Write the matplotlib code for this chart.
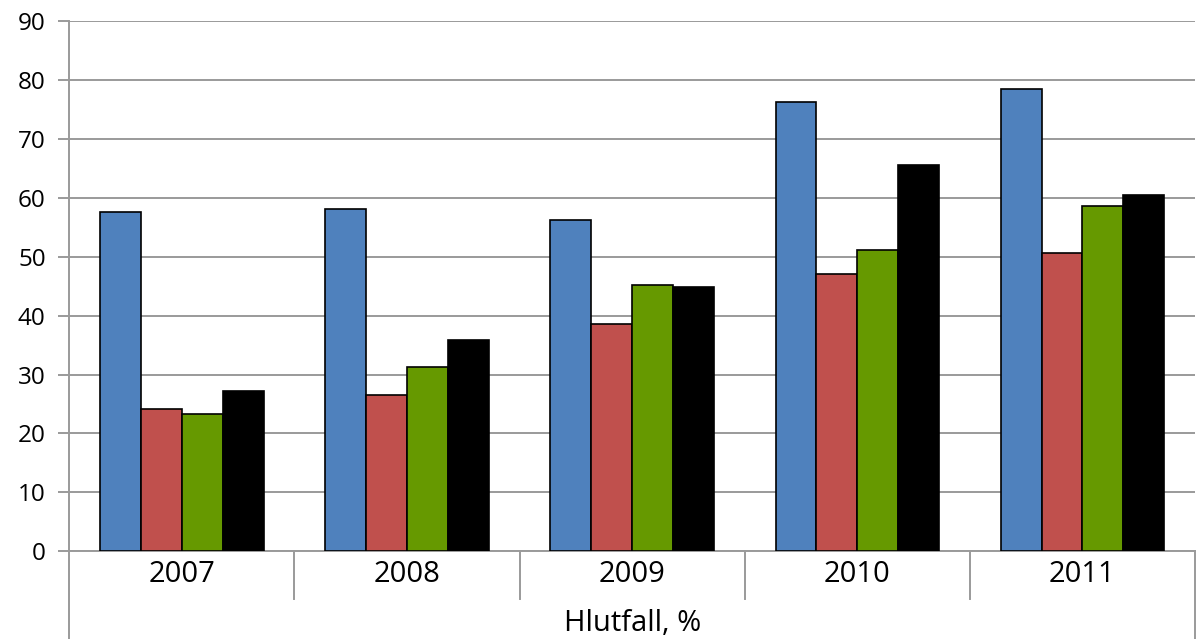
"""Hlutfall, % - grouped bar chart 2007-2011."""

import matplotlib
matplotlib.use('Agg')
import matplotlib.pyplot as plt
import numpy as np

plt.rcParams['font.family'] = ['Open Sans', 'DejaVu Sans']

years = ["2007", "2008", "2009", "2010", "2011"]
series_a = [57.6, 58.0, 56.2, 76.2, 78.4]
series_b = [24.2, 26.5, 38.5, 47.0, 50.6]
series_c = [23.3, 31.2, 45.2, 51.1, 58.6]
series_d = [27.2, 35.9, 44.8, 65.5, 60.4]
group_label = "Hlutfall, %"

series = [series_a, series_b, series_c, series_d]
colors = ["#4F81BD", "#C0504D", "#669900", "#000000"]
grid_col = "#9A9A9A"

fig = plt.figure(figsize=(12, 6.39), dpi=100, facecolor="white")
ax = fig.add_axes([0.0578, 0.137, 0.938, 0.8307])

x = np.arange(len(years))
w = 0.1816
for i, (vals, col) in enumerate(zip(series, colors)):
    ax.bar(x + (i - 1.5) * w, vals, w, color=col, edgecolor="black",
           linewidth=1.2, zorder=3)

ax.set_xlim(-0.5, len(years) - 0.5)
ax.set_ylim(0, 90)
ax.set_yticks(np.arange(0, 91, 10))
ax.tick_params(axis="y", length=8, width=1.4, color=grid_col, labelsize=17.5, pad=9)
ax.set_xticks([])
ax.grid(axis="y", color=grid_col, linewidth=1.4, zorder=0)

for s in ["top", "right"]:
    ax.spines[s].set_visible(False)
ax.spines["left"].set_color(grid_col)
ax.spines["left"].set_linewidth(1.4)
ax.spines["bottom"].set_color(grid_col)
ax.spines["bottom"].set_linewidth(1.4)

# multi-level category axis
tr = ax.get_xaxis_transform()
for b in np.arange(0.5, len(years) - 1, 1.0):
    ax.plot([b, b], [0, -0.0895], transform=tr, color=grid_col, lw=1.4, clip_on=False)
for b in [-0.5, len(years) - 0.5]:
    ax.plot([b, b], [0, -0.17], transform=tr, color=grid_col, lw=1.4, clip_on=False)

for xi, yr in zip(x, years):
    ax.text(xi, -0.0443, yr, transform=tr, ha="center", va="center", fontsize=21)
ax.text((len(years) - 1) / 2, -0.135, group_label, transform=tr, ha="center",
        va="center", fontsize=21)

plt.savefig("out.png", dpi=100, facecolor="white")
